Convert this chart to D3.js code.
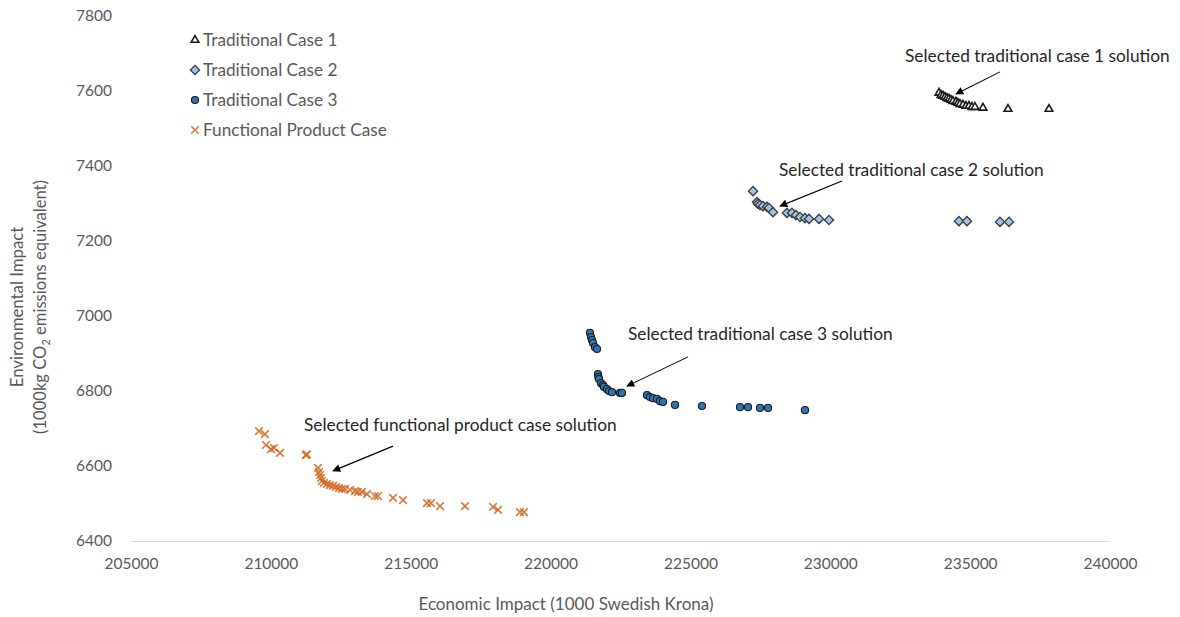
<!DOCTYPE html>
<html>
<head>
<meta charset="utf-8">
<script src="https://cdn.jsdelivr.net/npm/d3@7"></script>
<style>
  body { margin: 0; background: #fff; }
  svg text { font-family: Lato, "Open Sans", sans-serif; }
</style>
</head>
<body>
<svg id="chart" width="1180" height="617"></svg>
<script>
// Traditional Case 1 (economic, environmental)
const case1 = [
  [233886, 7595], [233958, 7589], [234029, 7587], [234101, 7584], [234172, 7581],
  [234244, 7579], [234315, 7576], [234387, 7573], [234494, 7571], [234565, 7568],
  [234637, 7565], [234744, 7563], [234851, 7560], [234958, 7560], [235066, 7557],
  [235173, 7557], [235459, 7555], [236353, 7552], [237819, 7552]
];
// Traditional Case 2
const case2 = [
  [227237, 7333], [227380, 7304], [227416, 7299], [227487, 7296], [227594, 7293],
  [227737, 7291], [227809, 7288], [227952, 7277], [228452, 7275], [228631, 7275],
  [228774, 7269], [228916, 7264], [229096, 7261], [229239, 7259], [229596, 7259],
  [229954, 7256], [234601, 7253], [234887, 7253], [236067, 7251], [236389, 7251]
];
// Traditional Case 3
const case3 = [
  [221409, 6955], [221445, 6944], [221481, 6936], [221517, 6928], [221588, 6917],
  [221660, 6912], [221695, 6845], [221710, 6837], [221731, 6832], [221803, 6821],
  [221874, 6816], [221910, 6811], [222017, 6805], [222089, 6800], [222196, 6797],
  [222482, 6795], [222553, 6795], [223447, 6789], [223554, 6784], [223662, 6781],
  [223805, 6779], [223912, 6773], [224019, 6771], [224448, 6763], [225413, 6760],
  [226772, 6757], [227058, 6757], [227487, 6755], [227773, 6755], [229096, 6749]
];
// Functional Product Case
const functional = [
  [209576, 6693], [209790, 6685], [209826, 6656], [210005, 6645], [210112, 6648],
  [210327, 6635], [211256, 6629], [211285, 6631], [211685, 6595], [211720, 6584],
  [211757, 6576], [211793, 6568], [211828, 6560], [211900, 6555], [212007, 6552],
  [212114, 6549], [212222, 6547], [212329, 6544], [212436, 6541], [212543, 6539],
  [212651, 6539], [212830, 6536], [213008, 6533], [213115, 6531], [213258, 6531],
  [213437, 6525], [213723, 6520], [213830, 6520], [214367, 6515], [214724, 6509],
  [215582, 6501], [215725, 6501], [216047, 6493], [216941, 6493], [217942, 6491],
  [218121, 6483], [218907, 6477], [219050, 6477]
];

const xTicks = [205000, 210000, 215000, 220000, 225000, 230000, 235000, 240000];
const yTicks = [6400, 6600, 6800, 7000, 7200, 7400, 7600, 7800];

const seriesNames = ["Traditional Case 1", "Traditional Case 2", "Traditional Case 3", "Functional Product Case"];

// Callouts: text anchor (left, baseline) and arrow from -> to, in data units
const callouts = [
  { text: "Selected traditional case 1 solution", tx: 232671, ty: 7677, from: [236067, 7651], to: [234494, 7592] },
  { text: "Selected traditional case 2 solution", tx: 228166, ty: 7373, from: [230418, 7360], to: [228202, 7293] },
  { text: "Selected traditional case 3 solution", tx: 222768, ty: 6936, from: [224913, 6891], to: [222732, 6813] },
  { text: "Selected functional product case solution", tx: 211185, ty: 6693, from: [214367, 6653], to: [212222, 6587] }
];

const svg = d3.select("#chart");
const margin = { left: 131, right: 70, top: 16, bottom: 76 };
const W = 1180, H = 617;

const x = d3.scaleLinear().domain([205000, 240000]).range([margin.left, W - margin.right]);
const y = d3.scaleLinear().domain([6400, 7800]).range([H - margin.bottom, margin.top]);

const textGray = "#595959";

// x axis: baseline only, no ticks
const xAxis = d3.axisBottom(x).tickValues(xTicks).tickSize(0).tickPadding(17).tickFormat(d3.format("d"));
const gx = svg.append("g").attr("transform", `translate(0,${y(6400)})`).call(xAxis);
gx.select(".domain").attr("stroke", "#d9d9d9").attr("stroke-width", 1);
gx.selectAll("text").attr("fill", textGray).attr("font-size", 15.5).attr("font-family", "Lato");

// y axis: labels only
const yAxis = d3.axisLeft(y).tickValues(yTicks).tickSize(0).tickPadding(19).tickFormat(d3.format("d"));
const gy = svg.append("g").attr("transform", `translate(${margin.left},0)`).call(yAxis);
gy.select(".domain").remove();
gy.selectAll("text").attr("fill", textGray).attr("font-size", 15.5).attr("font-family", "Lato");

// axis titles
svg.append("text")
  .attr("x", 566).attr("y", 610)
  .attr("text-anchor", "middle").attr("fill", textGray).attr("font-size", 17)
  .text("Economic Impact (1000 Swedish Krona)");

const yTitle = svg.append("g").attr("transform", "translate(23,307) rotate(-90)");
yTitle.append("text").attr("x", 0).attr("y", 0).attr("text-anchor", "middle")
  .attr("fill", textGray).attr("font-size", 16.8).text("Environmental Impact");
const line2 = yTitle.append("text").attr("x", 0).attr("y", 23).attr("text-anchor", "middle")
  .attr("fill", textGray).attr("font-size", 16.6);
line2.append("tspan").text("(1000kg CO");
line2.append("tspan").attr("font-size", 11).attr("dy", 4).text("2");
line2.append("tspan").attr("dy", -4).text(" emissions equivalent)");

// marker drawers
const triPath = d3.symbol().type(d3.symbolTriangle).size(26)();
const diaPath = "M0,-4.6L4.6,0L0,4.6L-4.6,0Z";
const cirPath = d3.symbol().type(d3.symbolCircle).size(40)();

function drawTri(g) {
  g.append("path").attr("d", triPath).attr("fill", "#ffffff").attr("stroke", "#1a1a1a").attr("stroke-width", 1.6);
}
function drawDia(g) {
  g.append("path").attr("d", diaPath).attr("fill", "#9dc3e6").attr("stroke", "#3a3a3a").attr("stroke-width", 1.3);
}
function drawCir(g) {
  g.append("path").attr("d", cirPath).attr("fill", "#2e75b6").attr("stroke", "#1a1a1a").attr("stroke-width", 1.1);
}
function drawX(g) {
  const s = 3.8;
  g.append("path").attr("d", `M${-s},${-s}L${s},${s}M${-s},${s}L${s},${-s}`)
    .attr("stroke", "#d0631c").attr("stroke-width", 1.6).attr("stroke-opacity", 0.85).attr("fill", "none");
}

const drawers = [drawTri, drawDia, drawCir, drawX];
const allSeries = [case1, case2, case3, functional];

allSeries.forEach((data, i) => {
  svg.append("g").selectAll("g").data(data).join("g")
    .attr("transform", d => `translate(${x(d[0])},${y(d[1])})`)
    .each(function () { drawers[i](d3.select(this)); });
});

// legend
const legend = svg.append("g").attr("transform", "translate(195,40)");
seriesNames.forEach((name, i) => {
  const row = legend.append("g").attr("transform", `translate(0,${i * 30})`);
  drawers[i](row.append("g"));
  row.append("text").attr("x", 8).attr("y", 6).attr("fill", textGray).attr("font-size", 17.2).text(name);
});

// arrow marker
svg.append("defs").append("marker")
  .attr("id", "arrowhead").attr("viewBox", "0 0 10 10").attr("refX", 9).attr("refY", 5)
  .attr("markerWidth", 9).attr("markerHeight", 8).attr("markerUnits", "userSpaceOnUse")
  .attr("orient", "auto")
  .append("path").attr("d", "M0,0L10,5L0,10Z").attr("fill", "#000");

// callouts
callouts.forEach(c => {
  svg.append("line")
    .attr("x1", x(c.from[0])).attr("y1", y(c.from[1]))
    .attr("x2", x(c.to[0])).attr("y2", y(c.to[1]))
    .attr("stroke", "#000").attr("stroke-width", 1.1)
    .attr("marker-end", "url(#arrowhead)");
  svg.append("text").attr("x", x(c.tx)).attr("y", y(c.ty))
    .attr("fill", "#262626").attr("font-size", 17.3).text(c.text);
});
</script>
</body>
</html>
